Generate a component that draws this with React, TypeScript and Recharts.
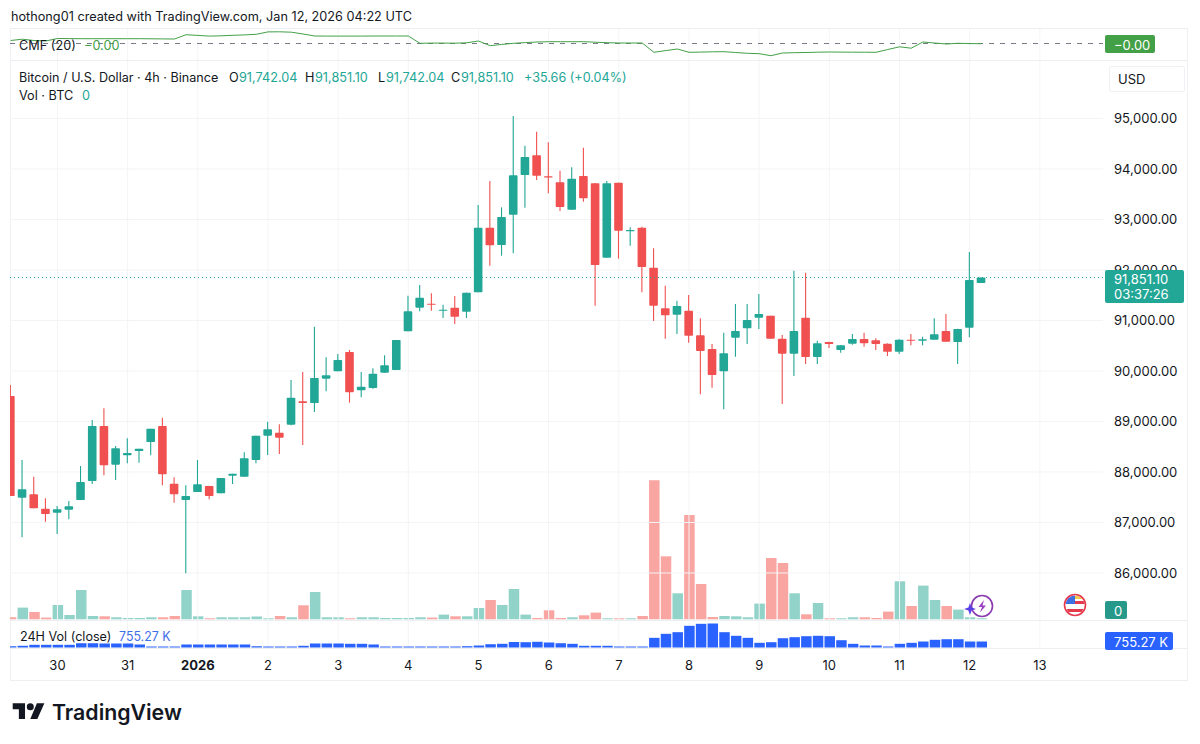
import React from 'react';
import { ComposedChart, Bar, Line, XAxis, YAxis, CartesianGrid, ReferenceLine, Cell } from 'recharts';

const opens = [89505,87492,87558,87274,87195,87254,87445,87822,88911,88145,88330,88416,88594,88911,87769,87445,87604,87723,87577,87927,87907,88237,88719,88779,88937,89399,89366,89848,89993,90376,89617,89663,89967,90019,90785,91254,91333,91194,91254,91174,91557,92838,92494,93095,93880,94270,93854,93735,93194,93861,93715,92244,93729,92772,92838,92046,91240,91115,91194,90706,90435,89993,90660,90844,91056,91095,90640,90343,91056,90277,90574,90415,90541,90633,90607,90541,90382,90620,90600,90620,90792,90574,90858,91742];
const highs = [89722,88237,87907,87478,87327,87426,88119,89029,89260,88515,88666,88462,88858,89076,87894,87736,88237,87729,87881,87967,88389,88719,88996,88944,89821,89980,90877,90270,90336,90415,89980,90052,90310,90613,91491,91702,91537,91313,91485,91551,93286,93762,93240,95049,94461,94738,94527,93966,94032,94422,93715,93762,93729,92844,92857,92428,91689,91392,91504,91042,90534,90759,91326,91326,91524,91095,90712,91986,91947,90600,90580,90508,90732,90759,90646,90547,90627,90732,90679,91042,91128,90838,92356,91851];
const lows = [87525,86706,87280,87016,86772,87063,87445,87762,87934,87841,88171,88185,88330,87736,87393,85993,87604,87459,87577,87762,87907,88171,88336,88356,88924,88534,89188,89597,89993,89373,89478,89650,89967,90019,90785,91181,91194,91049,90930,91049,91557,92085,92283,92329,93234,93781,93517,93168,93194,93352,91293,92244,92224,92481,91557,90990,90640,90732,90561,89538,89670,89241,90283,90534,90831,90640,89346,89901,90138,90138,90455,90363,90521,90481,90415,90297,90336,90508,90508,90620,90580,90138,90666,91742];
const closes = [87525,87657,87280,87168,87261,87320,87802,88911,88132,88468,88376,88462,88858,87954,87558,87525,87756,87525,87881,87967,88270,88719,88845,88680,89472,89366,89861,89914,90217,89577,89689,89947,90112,90613,91181,91452,91313,91214,91075,91551,92838,92488,93049,93874,94237,93867,93834,93247,93808,93418,92098,93715,92778,92791,92059,91293,91102,91287,90699,90396,89920,90349,90792,91009,91128,90640,90343,90792,90277,90547,90534,90508,90633,90547,90534,90382,90620,90600,90627,90726,90580,90831,91801,91851];
const volumes = [20,117,73,17,143,43,293,33,30,20,13,13,20,20,33,293,30,10,20,20,20,27,10,33,20,140,273,20,20,10,20,20,13,13,13,20,17,47,30,30,113,193,143,303,47,13,90,13,20,40,67,10,10,10,33,1390,630,260,1043,353,23,33,30,20,157,613,563,260,50,163,10,10,20,20,13,77,380,133,337,193,133,97,20,10];
const vol24h = [165,215,340,340,340,340,540,540,505,505,505,380,125,125,125,380,380,380,380,380,380,165,125,125,125,215,505,505,505,465,465,380,125,125,125,125,125,125,125,165,250,415,465,695,670,720,630,540,465,215,215,215,125,125,125,1220,1725,1930,2735,2985,3025,1930,1475,1220,590,670,1170,1300,1425,1475,1425,920,465,250,250,125,465,590,755,970,1045,1045,755.27,755.27];
const cmf = [0.03,0.043,0.03,0.025,0.05,0.049,0.048,0.048,0.048,0.048,0.048,0.048,0.047,0.046,0.045,0.088,0.081,0.074,0.077,0.082,0.086,0.092,0.116,0.117,0.113,0.095,0.075,0.074,0.074,0.074,0.074,0.075,0.075,0.075,0.075,0.002,0.004,0.004,0.003,0.007,0.025,-0.022,-0.009,0.002,0.009,0.015,0.018,0.018,0.018,0.018,0.013,0.008,0.005,0.005,0.005,-0.088,-0.071,-0.055,-0.088,-0.086,-0.083,-0.082,-0.09,-0.098,-0.102,-0.122,-0.095,-0.092,-0.09,-0.087,-0.085,-0.086,-0.087,-0.087,-0.088,-0.06,-0.033,-0.047,0.015,0.005,-0.005,0.002,-0.001,-0.002];
const dayTicks = [4,10,16,22,28,34,40,46,52,58,64,70,76,82,88];
const dayLabels = ['30','31','2026','2','3','4','5','6','7','8','9','10','11','12','13'];
const priceTicks = [86000,87000,88000,89000,90000,91000,92000,93000,94000,95000];
const lastPrice = 91851.1;

const candles = opens.map((open, i) => ({ i, open, high: highs[i], low: lows[i], close: closes[i], vol: volumes[i], vol24: vol24h[i], cmf: cmf[i] }));

const UP = '#22a696';
const DOWN = '#f0504f';
const UP_VOL = '#91d3c9';
const DOWN_VOL = '#f9a5a1';
const BLUE = '#2962ff';
const GREEN = '#43a047';
const INK = '#131722';
const GRID = '#f3f4f6';
const FONT = 'Inter, Roboto, sans-serif';
const X_DOMAIN: [number, number] = [-0.06, 93.4];
const MARGIN = { left: 10, right: 97, top: 0, bottom: 0 };

function Candle(props: any) {
  const { x, y, width, height, payload } = props;
  const h = Math.abs(height);
  const t = Math.min(y, y + height);
  const scale = h / (payload.high - payload.low);
  const py = (p: number) => t + (payload.high - p) * scale;
  const cx = x + width / 2;
  const color = payload.close >= payload.open ? UP : DOWN;
  const top = py(Math.max(payload.open, payload.close));
  const bot = py(Math.min(payload.open, payload.close));
  return (
    <g>
      <line x1={cx} x2={cx} y1={t} y2={t + h} stroke={color} strokeWidth={1.1} />
      <rect x={cx - 4.3} width={8.6} y={top} height={Math.max(bot - top, 1.2)} fill={color} rx={0.8} />
    </g>
  );
}

function PriceTick(props: any) {
  const { y, payload } = props;
  return (
    <text x={1114} y={y} dominantBaseline="central" fontFamily={FONT} fontSize={13} fill={INK}>
      {payload.value.toLocaleString('en-US', { minimumFractionDigits: 2 })}
    </text>
  );
}

function DayTick(props: any) {
  const { x, payload } = props;
  const label = dayLabels[dayTicks.indexOf(payload.value)];
  const bold = label === '2026';
  return (
    <text x={x} y={44} textAnchor="middle" dominantBaseline="central" fontFamily={FONT} fontSize={13} fontWeight={bold ? 700 : 400} fill={INK}>
      {label}
    </text>
  );
}

function T({ x, y, c = INK, s = 12.7, w = 400, children }: any) {
  return (
    <span style={{ position: 'absolute', left: x, top: y + 0.7, transform: 'translateY(-50%)', color: c, fontSize: s, fontWeight: w, lineHeight: 1, whiteSpace: 'nowrap', fontFamily: FONT }}>
      {children}
    </span>
  );
}

function Box({ x, y, w, h, bg, border, children }: any) {
  return <div style={{ position: 'absolute', left: x, top: y, width: w, height: h, background: bg, border, borderRadius: 2, boxSizing: 'border-box' }}>{children}</div>;
}

const pane = (top: number, height: number): React.CSSProperties => ({ position: 'absolute', left: 0, top, width: 1200, height });
const hr = (y: number, x = 10, w = 1178): React.CSSProperties => ({ position: 'absolute', left: x, top: y, width: w, height: 1, background: '#eceef2' });

export default function App() {
  return (
    <div style={{ position: 'absolute', left: 0, top: 0, width: 1200, height: 744, background: '#fff', overflow: 'hidden', fontFamily: FONT }}>
      <div style={{ position: 'absolute', left: 10, top: 28, width: 1, height: 652, background: '#f0f1f4' }} />
      <T x={11} y={16} s={12.7}>hothong01 created with TradingView.com, Jan 12, 2026 04:22 UTC</T>

      {/* CMF pane */}
      <div style={pane(29, 31)}>
        <ComposedChart width={1200} height={31} data={candles} margin={MARGIN}>
          <CartesianGrid horizontal={false} verticalValues={dayTicks} stroke={GRID} />
          <XAxis dataKey="i" type="number" domain={X_DOMAIN} ticks={dayTicks} hide allowDataOverflow />
          <YAxis domain={[-0.165, 0.145]} hide allowDataOverflow />
          <ReferenceLine y={0} stroke="#787b86" strokeDasharray="5 6" strokeWidth={1} />
          <Line dataKey="cmf" stroke={GREEN} strokeWidth={1} dot={false} isAnimationActive={false} />
        </ComposedChart>
      </div>

      {/* Volume overlay, under the candles */}
      <div style={pane(60, 560)}>
        <ComposedChart width={1200} height={560} data={candles} margin={MARGIN}>
          <XAxis dataKey="i" type="number" domain={X_DOMAIN} ticks={dayTicks} hide allowDataOverflow />
          <YAxis hide domain={[-7, 5593]} allowDataOverflow />
          <Bar dataKey="vol" barSize={10.5} isAnimationActive={false}>
            {candles.map((d) => <Cell key={d.i} fill={d.close >= d.open ? UP_VOL : DOWN_VOL} />)}
          </Bar>
        </ComposedChart>
      </div>

      {/* Price pane */}
      <div style={pane(60, 560)}>
        <ComposedChart width={1200} height={560} data={candles} margin={{ ...MARGIN, right: 0 }}>
          <CartesianGrid horizontalValues={priceTicks} verticalValues={dayTicks} stroke={GRID} />
          <XAxis dataKey="i" type="number" domain={X_DOMAIN} ticks={dayTicks} hide allowDataOverflow />
          <YAxis orientation="right" width={97} domain={[85069, 96158]} ticks={priceTicks} interval={0} tick={<PriceTick />} axisLine={false} tickLine={false} allowDataOverflow />
          <ReferenceLine y={lastPrice} stroke={UP} strokeDasharray="1 3" strokeWidth={1} />
          <Bar dataKey={(d: any) => [d.low, d.high]} barSize={9} shape={<Candle />} isAnimationActive={false} />
        </ComposedChart>
      </div>

      {/* 24H volume pane */}
      <div style={pane(621, 59)}>
        <ComposedChart width={1200} height={59} data={candles} margin={{ ...MARGIN, bottom: 0 }}>
          <CartesianGrid horizontal={false} verticalValues={dayTicks} stroke={GRID} />
          <XAxis dataKey="i" type="number" domain={X_DOMAIN} ticks={dayTicks} interval={0} height={32} tick={<DayTick />} axisLine={false} tickLine={false} allowDataOverflow />
          <YAxis domain={[-63, 3340]} hide allowDataOverflow />
          <Bar dataKey="vol24" fill={BLUE} barSize={10.5} isAnimationActive={false} />
        </ComposedChart>
      </div>

      <div style={hr(28)} />
      <div style={hr(60)} />
      <div style={hr(620)} />
      <div style={hr(648)} />
      <div style={hr(680)} />
      <div style={{ position: 'absolute', left: 1187, top: 28, width: 1, height: 652, background: '#f0f1f4' }} />

      {/* Legends */}
      <T x={19} y={45}>CMF (20)</T>
      <T x={84} y={45} c={GREEN}>−0.00</T>
      <T x={19} y={77} s={12.6}>Bitcoin / U.S. Dollar · 4h · Binance</T>
      <T x={229} y={77}>O</T><T x={239} y={77} c={UP}>91,742.04</T>
      <T x={305} y={77}>H</T><T x={315} y={77} c={UP}>91,851.10</T>
      <T x={378} y={77}>L</T><T x={386} y={77} c={UP}>91,742.04</T>
      <T x={451} y={77}>C</T><T x={461} y={77} c={UP}>91,851.10</T>
      <T x={524} y={77} s={12.6} c={UP}>+35.66 (+0.04%)</T>
      <T x={19} y={95}>Vol · BTC</T>
      <T x={82} y={95} c={UP}>0</T>
      <T x={20} y={636} s={12.6}>24H Vol (close)</T>
      <T x={119} y={636} s={12.4} c="#3f6fe8">755.27 K</T>

      {/* Scale labels */}
      <Box x={1105} y={35} w={50} h={18} bg={GREEN} />
      <T x={1114} y={44} s={13} c="#fff">−0.00</T>
      <Box x={1109} y={66} w={76} h={26} bg="#fff" border="1px solid #f0f1f4" />
      <T x={1118} y={78} s={13}>USD</T>
      <Box x={1105} y={270} w={79} h={33} bg={UP} />
      <T x={1114} y={278} s={13} c="#fff">91,851.10</T>
      <T x={1114} y={293} s={13} c="#fff">03:37:26</T>
      <Box x={1105} y={601} w={22} h={18} bg="#26998b" />
      <T x={1114} y={610} s={13} c="#fff">0</T>
      <Box x={1105} y={632} w={68} h={18} bg={BLUE} />
      <T x={1114} y={641} s={13} c="#fff">755.27 K</T>

      {/* Event icons */}
      <svg width={1200} height={744} style={{ position: 'absolute', left: 0, top: 0, pointerEvents: 'none' }}>
        <defs>
          <clipPath id="flag"><circle cx={1075} cy={605} r={9.5} /></clipPath>
        </defs>
        <circle cx={982} cy={606} r={10.5} fill="#fff" stroke="#8a3ab0" strokeWidth={1.6} />
        <path d="M984 600 L978.5 607 L982 607 L980 612.5 L986 605.5 L982.5 605.5 Z" fill="#9a3fc0" />
        <path d="M970 603 L971.6 607.4 L976 609 L971.6 610.6 L970 615 L968.4 610.6 L964 609 L968.4 607.4 Z" fill="#5a3fe6" />
        <g clipPath="url(#flag)">
          <rect x={1064} y={594} width={22} height={22} fill="#fff" />
          <rect x={1064} y={609} width={22} height={3} fill="#e5394c" />
          <rect x={1075} y={601} width={11} height={3} fill="#e5394c" />
          <rect x={1075} y={596} width={11} height={3} fill="#f3c64b" />
          <rect x={1064} y={595} width={11} height={9} fill="#3d6fe0" />
        </g>
        <circle cx={1075} cy={605} r={10.5} fill="none" stroke="#e5394c" strokeWidth={1.6} />
        {/* TradingView mark */}
        <g transform="translate(12.7,697) scale(0.88)" fill="#131722">
          <path d="M14 25H7V14H0V7h14v18z" />
          <path d="M28 25h-8l7.5-18H36l-8 18z" />
          <circle cx={20} cy={11} r={4} />
        </g>
      </svg>
      <T x={52} y={712} s={21.3} w={600}>TradingView</T>
    </div>
  );
}
